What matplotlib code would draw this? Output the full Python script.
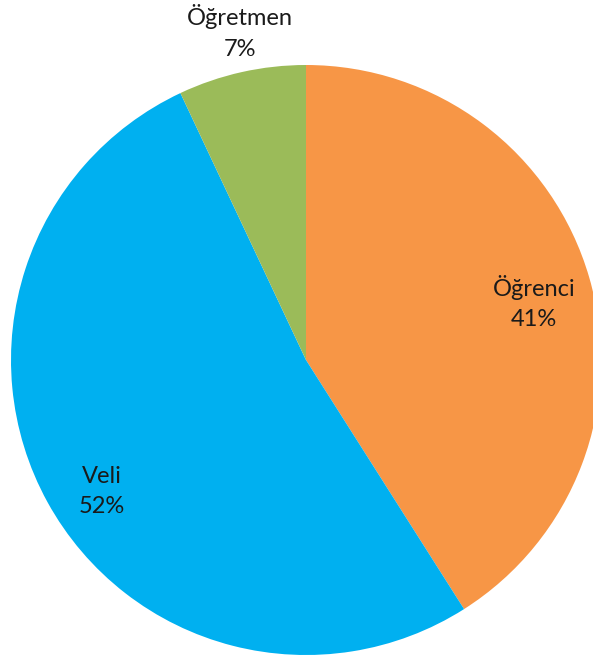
import numpy as np
import matplotlib
matplotlib.use("Agg")
import matplotlib.pyplot as plt

# slices, clockwise from 12 o'clock
labels = ["Öğrenci", "Veli", "Öğretmen"]
shares = [41, 52, 7]
colors = ["#F79646", "#00B0F0", "#9BBB59"]
# label anchors in pie units (radius = 1), Excel "best fit" style
label_xy = [(0.773, 0.195), (-0.692, -0.446), (-0.224, 1.112)]

plt.rcParams["font.family"] = ["Lato", "DejaVu Sans"]

fig = plt.figure(figsize=(5.93, 6.62), dpi=100)
# pie box in pixels: x 11..601, y 65..655 (from top)
ax = fig.add_axes([11 / 593, 7 / 662, 590 / 593, 590 / 662])

wedges, _ = ax.pie(
    shares,
    colors=colors,
    startangle=90,
    counterclock=False,
    radius=1,
    wedgeprops={"linewidth": 0, "clip_on": False},
    frame=True,
)
ax.set_xlim(-1, 1)
ax.set_ylim(-1, 1)
ax.axis("off")

total = sum(shares)
for name, val, (x, y) in zip(labels, shares, label_xy):
    ax.text(
        x, y,
        f"{name}\n{round(100 * val / total)}%",
        ha="center", va="center", multialignment="center",
        fontsize=17, color="#1a1a1a", linespacing=1.55, clip_on=False,
    )

fig.savefig("out.png", dpi=100)
